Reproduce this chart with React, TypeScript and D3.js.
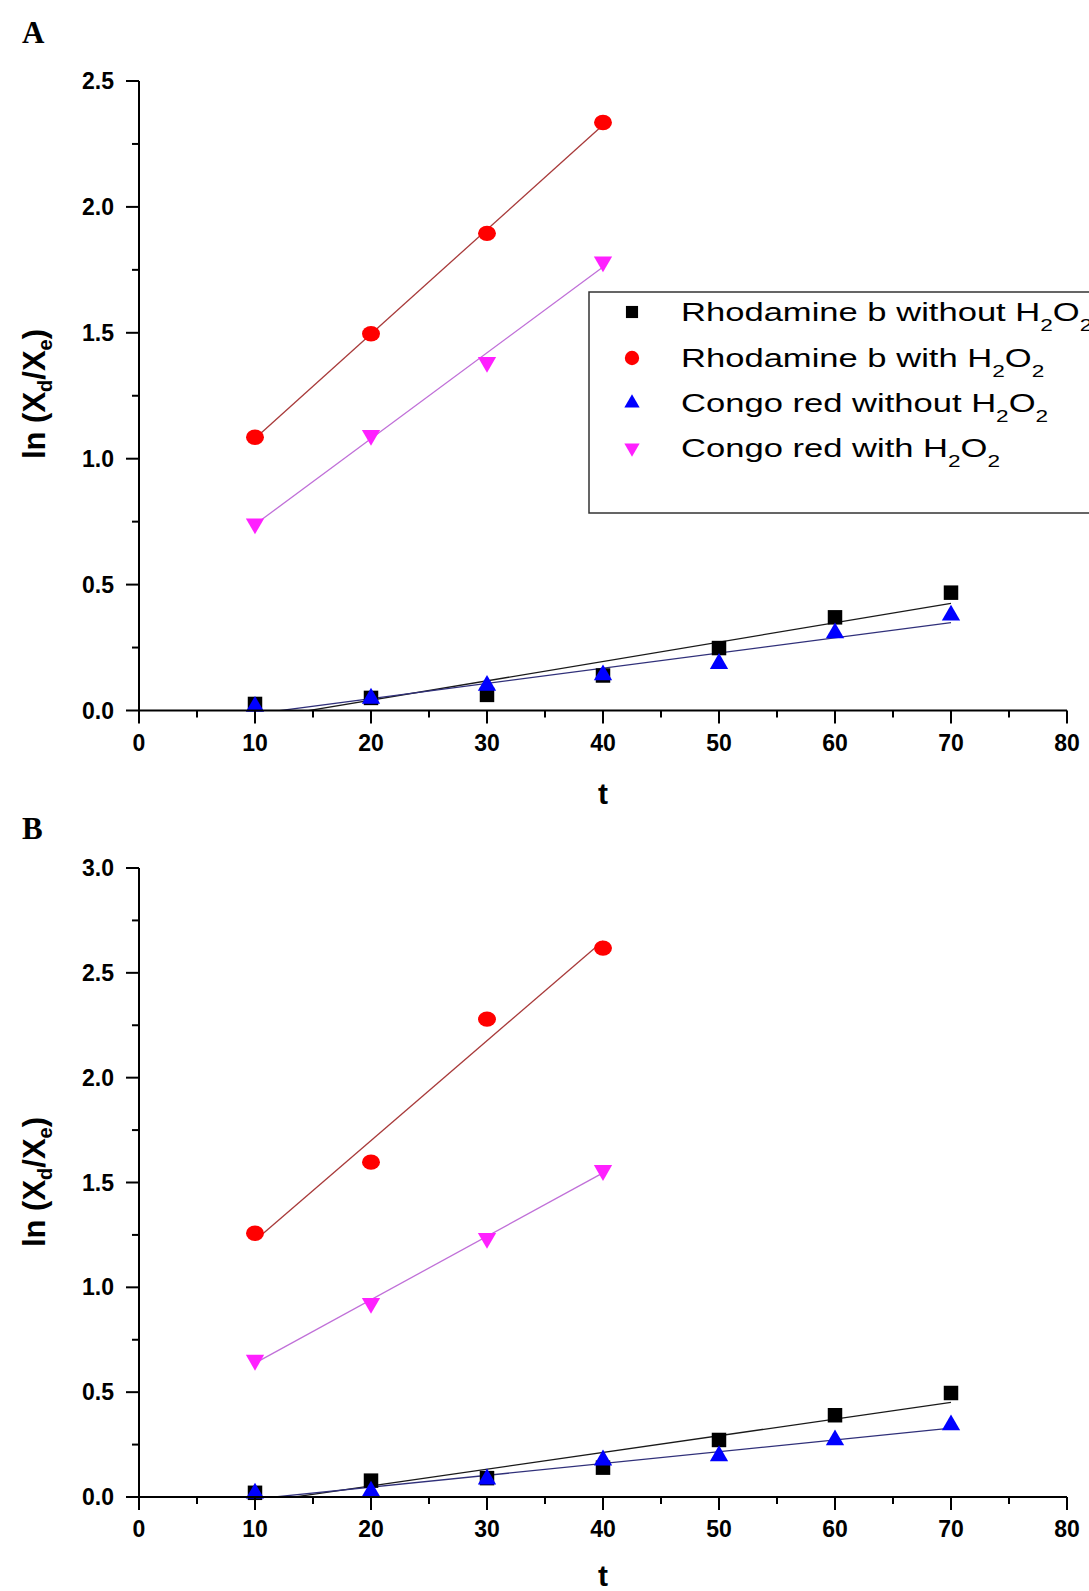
import * as d3 from 'd3';
import { useEffect, useRef } from 'react';

const width = 1089;
const height = 1591;

const times = [10, 20, 30, 40, 50, 60, 70];
const timesShort = [10, 20, 30, 40];

// panel A
const rbWithoutA = [0.026, 0.05, 0.062, 0.139, 0.248, 0.37, 0.468];
const rbWithA = [1.085, 1.496, 1.895, 2.335];
const crWithoutA = [0.016, 0.048, 0.099, 0.141, 0.186, 0.308, 0.378];
const crWithA = [0.742, 1.093, 1.383, 1.782];

// panel B
const rbWithoutB = [0.02, 0.078, 0.09, 0.14, 0.272, 0.39, 0.496];
const rbWithB = [1.258, 1.597, 2.279, 2.618];
const crWithoutB = [0.018, 0.027, 0.085, 0.176, 0.196, 0.272, 0.343];
const crWithB = [0.653, 0.924, 1.234, 1.558];

const xTicks = [0, 10, 20, 30, 40, 50, 60, 70, 80];
const yTicksA = [0, 0.5, 1.0, 1.5, 2.0, 2.5];
const yTicksB = [0, 0.5, 1.0, 1.5, 2.0, 2.5, 3.0];

const legendLabels = [
  ['Rhodamine b without H', '2', 'O', '2'],
  ['Rhodamine b with H', '2', 'O', '2'],
  ['Congo red without H', '2', 'O', '2'],
  ['Congo red with H', '2', 'O', '2'],
];

const styles = [
  { fill: '#000000', line: '#1a1a1a', sym: 'square' },
  { fill: '#ff0000', line: '#a83a3a', sym: 'circle' },
  { fill: '#0000ff', line: '#30307a', sym: 'up' },
  { fill: '#ff20ff', line: '#c070d8', sym: 'down' },
];

const FONT = "Arial, 'Liberation Sans', Helvetica, sans-serif";

function symbolPath(kind, scale = 1) {
  if (kind === 'square') return d3.symbol(d3.symbolSquare, 210 * scale)();
  if (kind === 'circle') return d3.symbol(d3.symbolCircle, 230 * scale)();
  return d3.symbol(d3.symbolTriangle, 145 * scale)();
}

function linFit(xs, ys) {
  const mx = d3.mean(xs);
  const my = d3.mean(ys);
  let sxy = 0;
  let sxx = 0;
  xs.forEach((x, i) => {
    sxy += (x - mx) * (ys[i] - my);
    sxx += (x - mx) * (x - mx);
  });
  const b = sxy / sxx;
  return { a: my - b * mx, b };
}

function drawPanel(svg, opts) {
  const { id, letter, letterY, top, bottom, yMax, yTicks, series, legend, titleY, tY } = opts;
  const x = d3.scaleLinear().domain([0, 80]).range([139, 1067]);
  const y = d3.scaleLinear().domain([0, yMax]).range([bottom, top]);

  const g = svg.append('g');

  g.append('clipPath')
    .attr('id', `clip-${id}`)
    .append('rect')
    .attr('x', x(0))
    .attr('y', y(yMax) - 20)
    .attr('width', x(80) - x(0))
    .attr('height', y(0) - y(yMax) + 20);

  // fit lines
  series.forEach((s, i) => {
    const fit = linFit(s.xs, s.ys);
    const x0 = s.xs[0];
    const x1 = s.xs[s.xs.length - 1];
    g.append('line')
      .attr('clip-path', `url(#clip-${id})`)
      .attr('x1', x(x0))
      .attr('y1', y(fit.a + fit.b * x0))
      .attr('x2', x(x1))
      .attr('y2', y(fit.a + fit.b * x1))
      .attr('stroke', styles[i].line)
      .attr('stroke-width', 1.3);
  });

  // points
  series.forEach((s, i) => {
    const st = styles[i];
    g.selectAll(null)
      .data(s.xs.map((xv, j) => [xv, s.ys[j]]))
      .enter()
      .append('path')
      .attr('d', symbolPath(st.sym))
      .attr('transform', (d) => {
        const rot = st.sym === 'down' ? ' rotate(180)' : '';
        const sc = st.sym === 'circle' ? ' scale(1.05,0.9)' : '';
        return `translate(${x(d[0])},${y(d[1])})${rot}${sc}`;
      })
      .attr('fill', st.fill);
  });

  // axes
  const axisColor = '#000';
  g.append('line')
    .attr('x1', x(0))
    .attr('x2', x(0))
    .attr('y1', y(yMax))
    .attr('y2', y(0))
    .attr('stroke', axisColor)
    .attr('stroke-width', 2);
  g.append('line')
    .attr('x1', x(0) - 1)
    .attr('x2', x(80))
    .attr('y1', y(0))
    .attr('y2', y(0))
    .attr('stroke', axisColor)
    .attr('stroke-width', 2);

  const xMinor = d3.range(5, 80, 10);
  g.selectAll(null)
    .data(xTicks)
    .enter()
    .append('line')
    .attr('x1', (d) => x(d))
    .attr('x2', (d) => x(d))
    .attr('y1', y(0))
    .attr('y2', y(0) + 13)
    .attr('stroke', axisColor)
    .attr('stroke-width', 2);
  g.selectAll(null)
    .data(xMinor)
    .enter()
    .append('line')
    .attr('x1', (d) => x(d))
    .attr('x2', (d) => x(d))
    .attr('y1', y(0))
    .attr('y2', y(0) + 7)
    .attr('stroke', axisColor)
    .attr('stroke-width', 2);
  g.selectAll(null)
    .data(xTicks)
    .enter()
    .append('text')
    .attr('x', (d) => x(d))
    .attr('y', y(0) + 40)
    .attr('text-anchor', 'middle')
    .attr('font-family', FONT)
    .attr('font-weight', 'bold')
    .attr('font-size', 23)
    .text((d) => d);

  const yMinor = yTicks.slice(0, -1).map((d) => d + 0.25);
  g.selectAll(null)
    .data(yTicks)
    .enter()
    .append('line')
    .attr('x1', x(0) - 13)
    .attr('x2', x(0))
    .attr('y1', (d) => y(d))
    .attr('y2', (d) => y(d))
    .attr('stroke', axisColor)
    .attr('stroke-width', 2);
  g.selectAll(null)
    .data(yMinor)
    .enter()
    .append('line')
    .attr('x1', x(0) - 7)
    .attr('x2', x(0))
    .attr('y1', (d) => y(d))
    .attr('y2', (d) => y(d))
    .attr('stroke', axisColor)
    .attr('stroke-width', 2);
  g.selectAll(null)
    .data(yTicks)
    .enter()
    .append('text')
    .attr('x', x(0) - 25)
    .attr('y', (d) => y(d) + 8)
    .attr('text-anchor', 'end')
    .attr('font-family', FONT)
    .attr('font-weight', 'bold')
    .attr('font-size', 23)
    .text((d) => d.toFixed(1));

  // titles
  g.append('text')
    .attr('x', 22)
    .attr('y', letterY)
    .attr('font-family', "'Times New Roman', 'Liberation Serif', serif")
    .attr('font-weight', 'bold')
    .attr('font-size', 31)
    .text(letter);

  g.append('text')
    .attr('x', x(40))
    .attr('y', tY)
    .attr('text-anchor', 'middle')
    .attr('font-family', FONT)
    .attr('font-weight', 'bold')
    .attr('font-size', 30)
    .text('t');

  const yt = g
    .append('text')
    .attr('transform', `translate(45,${titleY}) rotate(-90)`)
    .attr('text-anchor', 'middle')
    .attr('font-family', FONT)
    .attr('font-weight', 'bold')
    .attr('font-size', 31);
  yt.append('tspan').text('ln (X');
  yt.append('tspan').attr('font-size', 20).attr('dy', 7).text('d');
  yt.append('tspan').attr('dy', -7).text('/X');
  yt.append('tspan').attr('font-size', 20).attr('dy', 7).text('e');
  yt.append('tspan').attr('dy', -7).text(')');

  if (legend) {
    const lg = g.append('g');
    lg.append('rect')
      .attr('x', 589)
      .attr('y', 292)
      .attr('width', 560)
      .attr('height', 221)
      .attr('fill', 'white')
      .attr('stroke', '#333')
      .attr('stroke-width', 1.5);
    const rowY = [312, 358, 403, 448];
    legendLabels.forEach((lab, i) => {
      const st = styles[i];
      const rot = st.sym === 'down' ? ' rotate(180)' : '';
      lg.append('path')
        .attr('d', symbolPath(st.sym, 0.7))
        .attr('transform', `translate(632,${rowY[i]})${rot}`)
        .attr('fill', st.fill);
      const t = lg
        .append('text')
        .attr('transform', `translate(681,${rowY[i] + 9}) scale(1.33,1)`)
        .attr('font-family', FONT)
        .attr('font-size', 26);
      t.append('tspan').text(lab[0]);
      t.append('tspan').attr('font-size', 17).attr('dy', 10).text(lab[1]);
      t.append('tspan').attr('dy', -10).text(lab[2]);
      t.append('tspan').attr('font-size', 17).attr('dy', 10).text(lab[3]);
    });
  }
}

const App = () => {
  const svgRef = useRef(null);

  useEffect(() => {
    const svg = d3.select(svgRef.current);
    svg.selectAll('*').remove();
    svg.append('rect').attr('width', width).attr('height', height).attr('fill', 'white');

    drawPanel(svg, {
      id: 'a',
      letter: 'A',
      letterY: 43,
      top: 81,
      bottom: 710.5,
      yMax: 2.5,
      yTicks: yTicksA,
      legend: true,
      titleY: 394,
      tY: 804,
      series: [
        { xs: times, ys: rbWithoutA },
        { xs: timesShort, ys: rbWithA },
        { xs: times, ys: crWithoutA },
        { xs: timesShort, ys: crWithA },
      ],
    });

    drawPanel(svg, {
      id: 'b',
      letter: 'B',
      letterY: 839,
      top: 868,
      bottom: 1497,
      yMax: 3,
      yTicks: yTicksB,
      legend: false,
      titleY: 1182,
      tY: 1586,
      series: [
        { xs: times, ys: rbWithoutB },
        { xs: timesShort, ys: rbWithB },
        { xs: times, ys: crWithoutB },
        { xs: timesShort, ys: crWithB },
      ],
    });
  }, []);

  return (
    <svg
      ref={svgRef}
      width={width}
      height={height}
      style={{ position: 'absolute', left: 0, top: 0 }}
    ></svg>
  );
};

export default App;
